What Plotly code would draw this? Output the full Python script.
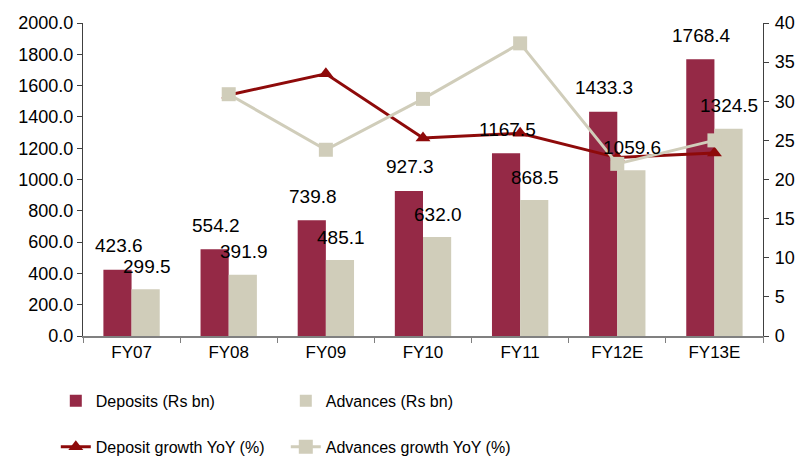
import plotly.graph_objects as go

categories = ["FY07", "FY08", "FY09", "FY10", "FY11", "FY12E", "FY13E"]
deposits = [423.6, 554.2, 739.8, 927.3, 1167.5, 1433.3, 1768.4]
advances = [299.5, 391.9, 485.1, 632.0, 868.5, 1059.6, 1324.5]
deposit_growth = [None, 30.8, 33.5, 25.3, 25.9, 22.8, 23.4]
advances_growth = [None, 30.9, 23.8, 30.3, 37.4, 22.0, 25.0]

left_ticks = [0, 200, 400, 600, 800, 1000, 1200, 1400, 1600, 1800, 2000]
right_ticks = [0, 5, 10, 15, 20, 25, 30, 35, 40]

DEP_COL = "#952946"
ADV_COL = "#D0CDBA"
DG_COL = "#8E0A0A"
FONT = "Liberation Sans, Arial, sans-serif"

fig = go.Figure()
fig.add_trace(go.Bar(x=categories, y=deposits, name="Deposits (Rs bn)",
                     marker=dict(color=DEP_COL, line=dict(width=0)), legend="legend"))
fig.add_trace(go.Bar(x=categories, y=advances, name="Advances (Rs bn)",
                     marker=dict(color=ADV_COL, line=dict(width=0)), legend="legend"))
fig.add_trace(go.Scatter(x=categories, y=deposit_growth, name="Deposit growth YoY (%)",
                         yaxis="y2", mode="lines+markers",
                         line=dict(color=DG_COL, width=3),
                         marker=dict(symbol="triangle-up", size=13, color=DG_COL),
                         legend="legend2"))
fig.add_trace(go.Scatter(x=categories, y=advances_growth, name="Advances growth YoY (%)",
                         yaxis="y2", mode="lines+markers",
                         line=dict(color=ADV_COL, width=3),
                         marker=dict(symbol="square", size=14, color=ADV_COL),
                         legend="legend2"))

annotations = []
for c, d, a in zip(categories, deposits, advances):
    annotations.append(dict(x=c, y=d, xref="x", yref="y", text=f"{d:.1f}", showarrow=False,
                            xshift=-13, yshift=24, yanchor="middle",
                            font=dict(size=19, color="black", family=FONT)))
    annotations.append(dict(x=c, y=a, xref="x", yref="y", text=f"{a:.1f}", showarrow=False,
                            xshift=15, yshift=23, yanchor="middle",
                            font=dict(size=19, color="black", family=FONT)))

fig.update_layout(
    width=804, height=459,
    margin=dict(l=75, r=49, t=15, b=131, autoexpand=False),
    paper_bgcolor="white", plot_bgcolor="white",
    font=dict(family=FONT, size=17, color="black"),
    barmode="group", bargap=0.42, bargroupgap=0,
    annotations=annotations,
    xaxis=dict(type="category", showline=True, linecolor="#808080", linewidth=1.5,
               ticks="outside", tickson="boundaries", ticklen=5, tickcolor="#808080",
               showgrid=False, tickfont=dict(size=17), automargin=False),
    yaxis=dict(range=[0, 2000], tickvals=left_ticks, tickformat=".1f",
               showline=True, linecolor="#404040", linewidth=1.2, ticks="outside",
               ticklen=5, tickcolor="#404040", showgrid=False, zeroline=False,
               tickfont=dict(size=18), automargin=False),
    yaxis2=dict(range=[0, 40], tickvals=right_ticks, overlaying="y", side="right",
                showline=True, linecolor="#404040", linewidth=1.2, ticks="outside",
                ticklen=5, tickcolor="#404040", showgrid=False, zeroline=False,
                tickfont=dict(size=18), automargin=False, ticklabelstandoff=2),
    legend=dict(orientation="h", x=-0.04, xanchor="left", y=-0.207, yanchor="middle",
                entrywidth=185, font=dict(size=16), bgcolor="rgba(0,0,0,0)",
                traceorder="normal"),
    legend2=dict(orientation="h", x=-0.04, xanchor="left", y=-0.354, yanchor="middle",
                 entrywidth=185, font=dict(size=16), bgcolor="rgba(0,0,0,0)",
                 traceorder="normal"),
)

fig.write_html("out.html")
